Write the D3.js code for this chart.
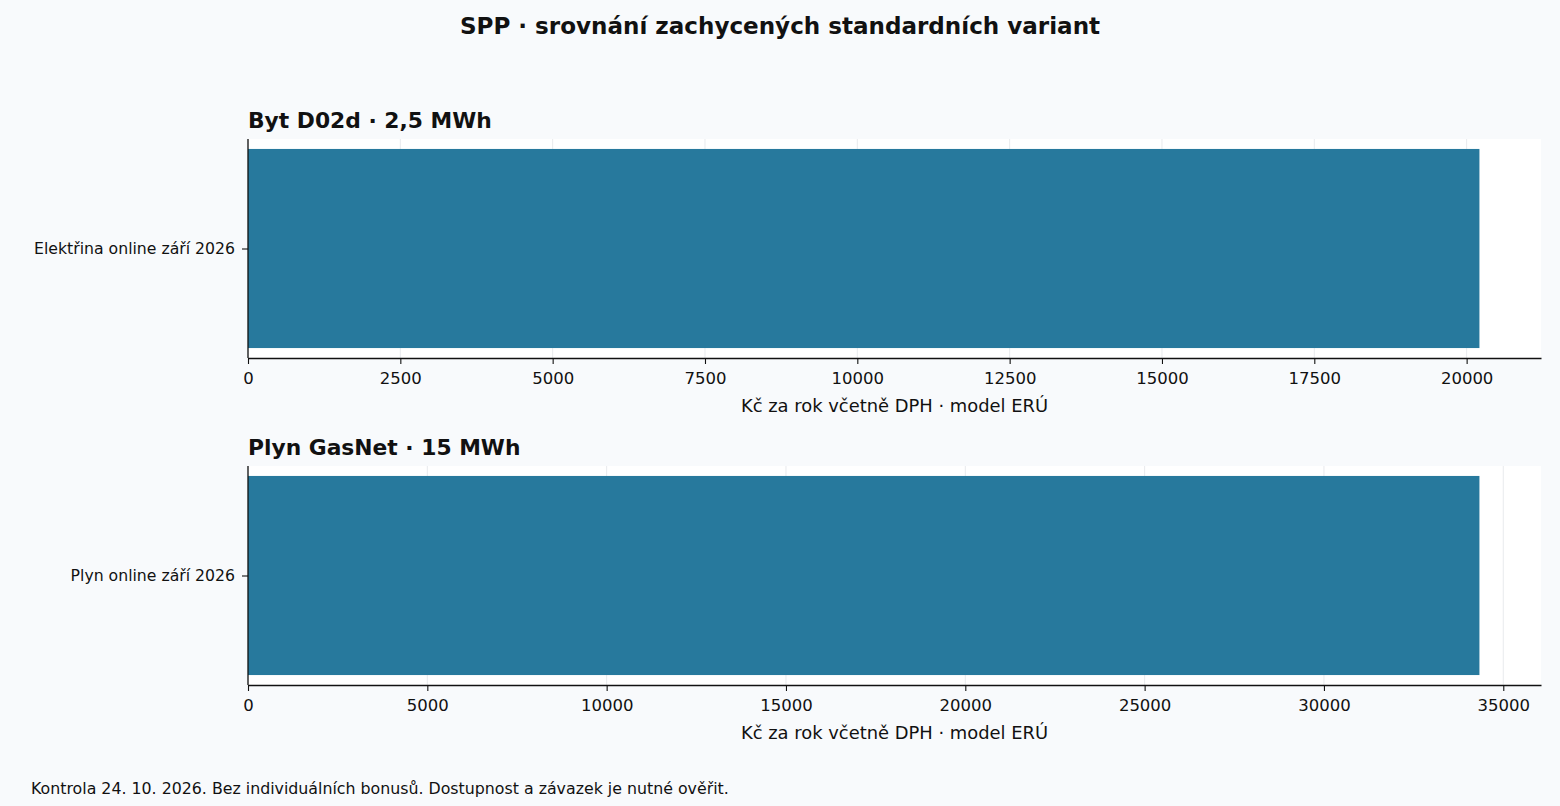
<!DOCTYPE html>
<html>
<head>
<meta charset="utf-8">
<script src="https://cdn.jsdelivr.net/npm/d3@7"></script>
<style>
  body { margin: 0; background: #f8fafc; }
  svg { display: block; font-family: "DejaVu Sans", sans-serif; }
</style>
</head>
<body>
<svg id="chart" width="1560" height="806"></svg>
<script>
/* ======================== DATA ========================= */
const panelTitles = ["Byt D02d · 2,5 MWh", "Plyn GasNet · 15 MWh"];
const categories  = [["Elektřina online září 2026"], ["Plyn online září 2026"]];
const values      = [[20210], [34335]];
const tickSteps   = [2500, 5000];
const xLabel      = "Kč za rok včetně DPH · model ERÚ";
const chartTitle  = "SPP · srovnání zachycených standardních variant";
const footNote    = "Kontrola 24. 10. 2026. Bez individuálních bonusů. Dostupnost a závazek je nutné ověřit.";

/* ======================= LAYOUT ======================== */
const svg = d3.select("#chart");
const barColor = "#27799d";
const plotLeft = 248, plotRight = 1541;
const panelTops = [139, 466];
const panelHeight = 219;

svg.append("text")
   .attr("x", 780)
   .attr("y", 34)
   .attr("text-anchor", "middle")
   .attr("font-size", 23.05)
   .attr("font-weight", "bold")
   .attr("fill", "#111")
   .text(chartTitle);

panelTitles.forEach((title, i) => drawPanel(i));

svg.append("text")
   .attr("x", 31)
   .attr("y", 794)
   .attr("font-size", 15.8)
   .attr("fill", "#111")
   .text(footNote);

/* =================== PANEL DRAWING ===================== */
function drawPanel(i) {
    const top = panelTops[i];
    const g = svg.append("g").attr("transform", `translate(${plotLeft},${top})`);
    const w = plotRight - plotLeft;

    const maxVal = d3.max(values[i]);
    const x = d3.scaleLinear()
                .domain([0, maxVal * 1.05])
                .range([0, w]);
    // matplotlib-like: bar height 0.8, 5% margin
    const n = categories[i].length;
    const y = d3.scaleLinear()
                .domain([-0.4 - 0.04 * n, n - 1 + 0.4 + 0.04 * n])
                .range([0, panelHeight]);

    g.append("rect")
     .attr("width", w)
     .attr("height", panelHeight)
     .attr("fill", "#ffffff");

    const ticks = d3.range(0, maxVal * 1.05 + 1, tickSteps[i]);

    g.selectAll("line.grid")
     .data(ticks)
     .join("line")
     .attr("class", "grid")
     .attr("x1", d => x(d)).attr("x2", d => x(d))
     .attr("y1", 0).attr("y2", panelHeight)
     .attr("stroke", "#e8eaed")
     .attr("stroke-width", 1);

    g.selectAll("rect.bar")
     .data(values[i])
     .join("rect")
     .attr("class", "bar")
     .attr("x", x(0))
     .attr("y", (d, k) => y(k - 0.4))
     .attr("width", d => x(d) - x(0))
     .attr("height", (d, k) => y(k + 0.4) - y(k - 0.4))
     .attr("fill", barColor);

    const xAxis = g.append("g")
                   .attr("transform", `translate(0,${panelHeight})`)
                   .call(d3.axisBottom(x).tickValues(ticks).tickFormat(d3.format("d"))
                           .tickSize(6).tickSizeOuter(0).tickPadding(8));
    xAxis.select(".domain").attr("stroke", "#111").attr("stroke-width", 1.3);
    xAxis.selectAll(".tick line").attr("stroke", "#111").attr("stroke-width", 1.1);
    xAxis.selectAll(".tick text")
         .attr("font-size", 16.5)
         .attr("font-family", "DejaVu Sans")
         .attr("fill", "#111");

    const yAxis = g.append("g")
                   .call(d3.axisLeft(y).tickValues(d3.range(n))
                           .tickFormat(k => categories[i][k])
                           .tickSize(6).tickPadding(7).tickSizeOuter(0));
    yAxis.select(".domain")
         .attr("d", `M0,0V${panelHeight}`)
         .attr("stroke", "#111").attr("stroke-width", 1.3);
    yAxis.selectAll(".tick line").attr("stroke", "#111").attr("stroke-width", 1.1);
    yAxis.selectAll(".tick text")
         .attr("font-size", 15.7)
         .attr("font-family", "DejaVu Sans")
         .attr("fill", "#111");

    g.append("text")
     .attr("x", w / 2)
     .attr("y", panelHeight + 54)
     .attr("text-anchor", "middle")
     .attr("font-size", 17.9)
     .attr("fill", "#111")
     .text(xLabel);

    g.append("text")
     .attr("x", 0)
     .attr("y", -11)
     .attr("font-size", 21.8)
     .attr("font-weight", "bold")
     .attr("fill", "#111")
     .text(panelTitles[i]);
}
</script>
</body>
</html>
